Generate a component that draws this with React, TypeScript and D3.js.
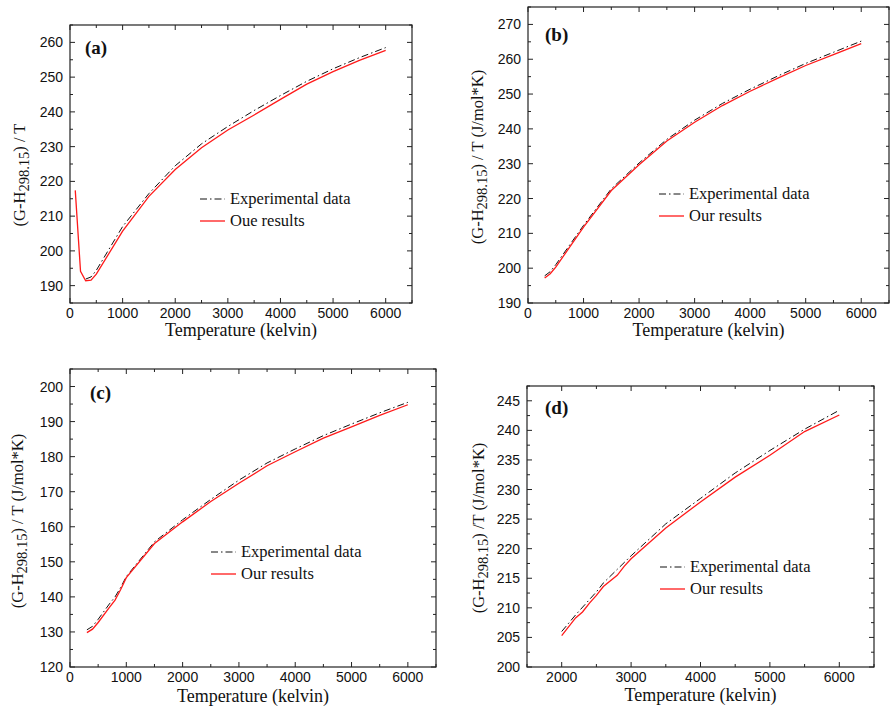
import React from 'react';
import * as d3 from 'd3';

// panel (a)
const tA_exp = [300, 400, 500, 1000, 1500, 2000, 2500, 3000, 3500, 4000, 4500, 5000, 5500, 6000];
const gA_exp = [191.9, 192.5, 194.4, 207.0, 216.5, 224.5, 230.8, 235.8, 240.4, 244.7, 248.8, 252.4, 255.6, 258.5];
const tA_our = [100, 200, 298, 400, 500, 1000, 1500, 2000, 2500, 3000, 3500, 4000, 4500, 5000, 5500, 6000];
const gA_our = [217.4, 194.1, 191.4, 191.6, 193.3, 205.7, 215.7, 223.4, 229.7, 234.8, 239.1, 243.6, 248.0, 251.6, 254.8, 257.7];

// panel (b)
const tB = [300, 400, 500, 1000, 1500, 2000, 2500, 3000, 3500, 4000, 4500, 5000, 5500, 6000];
const gB_exp = [197.8, 199.0, 201.0, 212.3, 222.8, 230.2, 237.0, 242.5, 247.3, 251.4, 255.2, 258.8, 262.0, 265.2];
const gB_our = [197.2, 198.4, 200.3, 211.8, 222.3, 229.7, 236.5, 241.9, 246.7, 250.8, 254.6, 258.2, 261.3, 264.5];

// panel (c)
const tC = [300, 400, 500, 700, 800, 900, 1000, 1500, 2000, 2500, 3000, 3500, 4000, 4500, 5000, 5500, 6000];
const gC_exp = [130.6, 131.6, 133.6, 138.0, 140.0, 142.7, 145.8, 155.7, 162.0, 167.8, 173.3, 178.2, 182.2, 186.0, 189.3, 192.5, 195.5];
const gC_our = [129.8, 130.8, 132.7, 137.0, 139.1, 142.1, 145.5, 155.2, 161.4, 167.2, 172.4, 177.4, 181.4, 185.3, 188.5, 191.8, 194.8];

// panel (d)
const tD_exp = [2000, 2200, 2500, 2600, 3000, 3500, 4000, 4500, 5000, 5500, 6000];
const gD_exp = [206.0, 208.8, 212.7, 214.2, 218.8, 224.2, 228.5, 232.8, 236.6, 240.2, 243.4];
const tD_our = [2000, 2200, 2300, 2400, 2500, 2600, 2800, 2900, 3000, 3500, 4000, 4500, 5000, 5500, 6000];
const gD_our = [205.3, 208.3, 209.3, 210.8, 212.1, 213.6, 215.5, 217.0, 218.3, 223.5, 227.9, 232.1, 235.8, 239.8, 242.6];

const serif = '"Liberation Serif", "Times New Roman", serif';
const sans = '"Liberation Sans", Arial, sans-serif';

type PanelProps = {
  left: number; right: number; top: number; bottom: number;
  xDomain: [number, number]; yDomain: [number, number];
  xMajor: number[]; xMinor: number[]; yMajor: number[]; yMinor: number[];
  exp: [number[], number[]]; our: [number[], number[]];
  tag: string; tagPos: [number, number];
  yTitle: string; yTitleX: number; yTitleY: number;
  legendX: number; legendY: number; ourLabel: string;
  xTitleY: number;
};

const Panel = (p: PanelProps) => {
  const x = d3.scaleLinear().domain(p.xDomain).range([p.left, p.right]);
  const y = d3.scaleLinear().domain(p.yDomain).range([p.bottom, p.top]);
  const line = d3.line<[number, number]>().x(d => x(d[0])).y(d => y(d[1]));
  const expPts = p.exp[0].map((t, i) => [t, p.exp[1][i]] as [number, number]);
  const ourPts = p.our[0].map((t, i) => [t, p.our[1][i]] as [number, number]);
  const maj = 5, mn = 3;
  const midX = (p.left + p.right) / 2;
  const [pre, post] = p.yTitle.split('|');

  return (
    <g>
      <path d={line(expPts) || ''} fill="none" stroke="#111" strokeWidth={1} strokeDasharray="7,3,1.5,3" />
      <path d={line(ourPts) || ''} fill="none" stroke="#ff1a1a" strokeWidth={1.3} />
      <rect x={p.left} y={p.top} width={p.right - p.left} height={p.bottom - p.top} fill="none" stroke="#222" strokeWidth={1.2} />
      {p.xMajor.map(v => (
        <g key={'xm' + v}>
          <line x1={x(v)} x2={x(v)} y1={p.bottom} y2={p.bottom - maj} stroke="#222" />
          <line x1={x(v)} x2={x(v)} y1={p.top} y2={p.top + maj} stroke="#222" />
          <text x={x(v)} y={p.bottom + 14.5} textAnchor="middle" fontFamily={sans} fontSize={14} fill="#111">{v}</text>
        </g>
      ))}
      {p.xMinor.map(v => (
        <g key={'xn' + v}>
          <line x1={x(v)} x2={x(v)} y1={p.bottom} y2={p.bottom - mn} stroke="#222" />
          <line x1={x(v)} x2={x(v)} y1={p.top} y2={p.top + mn} stroke="#222" />
        </g>
      ))}
      {p.yMajor.map(v => (
        <g key={'ym' + v}>
          <line x1={p.left} x2={p.left + maj} y1={y(v)} y2={y(v)} stroke="#222" />
          <line x1={p.right} x2={p.right - maj} y1={y(v)} y2={y(v)} stroke="#222" />
          <text x={p.left - 7} y={y(v) + 5} textAnchor="end" fontFamily={sans} fontSize={14} fill="#111">{v}</text>
        </g>
      ))}
      {p.yMinor.map(v => (
        <g key={'yn' + v}>
          <line x1={p.left} x2={p.left + mn} y1={y(v)} y2={y(v)} stroke="#222" />
          <line x1={p.right} x2={p.right - mn} y1={y(v)} y2={y(v)} stroke="#222" />
        </g>
      ))}
      <text x={p.tagPos[0]} y={p.tagPos[1]} fontFamily={serif} fontWeight="bold" fontSize={19} fill="#111">{p.tag}</text>
      <text x={midX} y={p.xTitleY} textAnchor="middle" fontFamily={serif} fontSize={18} fill="#111">Temperature (kelvin)</text>
      <text transform={`translate(${p.yTitleX},${p.yTitleY}) rotate(-90)`} textAnchor="middle" fontFamily={serif} fontSize={16.5} fill="#111">
        {pre}<tspan fontSize={14.5} dy={4}>298.15</tspan><tspan dy={-4}>{post}</tspan>
      </text>
      <line x1={p.legendX} x2={p.legendX + 25} y1={p.legendY} y2={p.legendY} stroke="#111" strokeDasharray="7,3,1.5,3" />
      <text x={p.legendX + 30} y={p.legendY + 5} fontFamily={serif} fontSize={16.5} fill="#111">Experimental data</text>
      <line x1={p.legendX} x2={p.legendX + 25} y1={p.legendY + 22} y2={p.legendY + 22} stroke="#ff1a1a" strokeWidth={1.3} />
      <text x={p.legendX + 30} y={p.legendY + 27} fontFamily={serif} fontSize={16.5} fill="#111">{p.ourLabel}</text>
    </g>
  );
};

const range = (a: number, b: number, s: number) => d3.range(a, b + s / 2, s);

export default function App() {
  return (
    <svg width={890} height={709} style={{ position: 'absolute', left: 0, top: 0, background: '#fff' }}>
      <Panel left={70} right={412} top={25} bottom={303}
        xDomain={[0, 6500]} yDomain={[185, 265]}
        xMajor={range(0, 6000, 1000)} xMinor={range(500, 6500, 1000)}
        yMajor={range(190, 260, 10)} yMinor={range(185, 265, 10)}
        exp={[tA_exp, gA_exp]} our={[tA_our, gA_our]}
        tag="(a)" tagPos={[85, 54]} yTitle="(G-H|) / T" yTitleX={25} yTitleY={175}
        legendX={200} legendY={199} ourLabel="Oue results" xTitleY={336} />
      <Panel left={528} right={889} top={7} bottom={303}
        xDomain={[0, 6500]} yDomain={[190, 275]}
        xMajor={range(0, 6000, 1000)} xMinor={range(500, 6500, 1000)}
        yMajor={range(190, 270, 10)} yMinor={range(195, 275, 10)}
        exp={[tB, gB_exp]} our={[tB, gB_our]}
        tag="(b)" tagPos={[545, 41]} yTitle="(G-H|) / T (J/mol*K)" yTitleX={483} yTitleY={157}
        legendX={659} legendY={194} ourLabel="Our results" xTitleY={336} />
      <Panel left={70} right={436} top={369} bottom={667}
        xDomain={[0, 6500]} yDomain={[120, 205]}
        xMajor={range(0, 6000, 1000)} xMinor={range(500, 6500, 1000)}
        yMajor={range(120, 200, 10)} yMinor={range(125, 205, 10)}
        exp={[tC, gC_exp]} our={[tC, gC_our]}
        tag="(c)" tagPos={[90, 399]} yTitle="(G-H|) / T (J/mol*K)" yTitleX={23} yTitleY={521}
        legendX={211} legendY={552} ourLabel="Our results" xTitleY={702} />
      <Panel left={527} right={874} top={386} bottom={667}
        xDomain={[1500, 6500]} yDomain={[200, 247.5]}
        xMajor={range(2000, 6000, 1000)} xMinor={range(1500, 6500, 1000)}
        yMajor={range(200, 245, 5)} yMinor={range(202.5, 247.5, 5)}
        exp={[tD_exp, gD_exp]} our={[tD_our, gD_our]}
        tag="(d)" tagPos={[545, 414]} yTitle="(G-H|) /T (J/mol*K)" yTitleX={484} yTitleY={528}
        legendX={660} legendY={567} ourLabel="Our results" xTitleY={701} />
    </svg>
  );
}
